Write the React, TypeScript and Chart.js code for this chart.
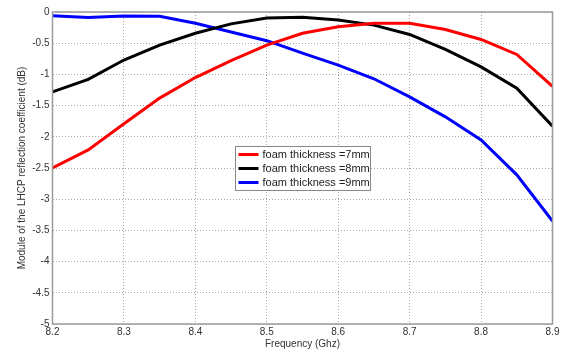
import React, { useEffect, useRef } from "react";
import { Chart, registerables } from "chart.js";

Chart.register(...registerables);

const freqs = [8.2, 8.25, 8.3, 8.35, 8.4, 8.45, 8.5, 8.55, 8.6, 8.65, 8.7, 8.75, 8.8, 8.85, 8.9];
const foam7 = [-2.5, -2.21, -1.79, -1.38, -1.05, -0.78, -0.53, -0.34, -0.235, -0.18, -0.18, -0.28, -0.44, -0.68, -1.19];
const foam8 = [-1.28, -1.08, -0.77, -0.53, -0.34, -0.19, -0.095, -0.085, -0.13, -0.21, -0.36, -0.6, -0.88, -1.22, -1.83];
const foam9 = [-0.06, -0.09, -0.065, -0.07, -0.18, -0.32, -0.46, -0.66, -0.85, -1.07, -1.36, -1.68, -2.05, -2.61, -3.35];
const seriesLabels = ["foam thickness =7mm", "foam thickness =8mm", "foam thickness =9mm"];
const seriesColors = ["#ff0000", "#000000", "#0000ff"];
const xTitle = "Frequency (Ghz)";
const yTitle = "Module of the LHCP reflection coefficient (dB)";

const FONT = "'Liberation Sans', Arial, sans-serif";

const boxAndLegend = {
  id: "boxAndLegend",
  afterDraw(chart: any) {
    const { ctx, chartArea } = chart;
    ctx.save();
    ctx.strokeStyle = "#9a9a9a";
    ctx.lineWidth = 1.5;
    ctx.strokeRect(chartArea.left, chartArea.top, chartArea.right - chartArea.left, chartArea.bottom - chartArea.top);
    // legend
    const lx = 235.5, ly = 146.5, lw = 135, lh = 44;
    ctx.fillStyle = "#ffffff";
    ctx.fillRect(lx, ly, lw, lh);
    ctx.strokeStyle = "#888888";
    ctx.lineWidth = 1;
    ctx.strokeRect(lx, ly, lw, lh);
    ctx.font = "11px " + FONT;
    ctx.textBaseline = "middle";
    ctx.textAlign = "left";
    chart.data.datasets.forEach((ds: any, i: number) => {
      const y = ly + 8 + i * 14;
      ctx.strokeStyle = ds.borderColor;
      ctx.lineWidth = 3;
      ctx.beginPath();
      ctx.moveTo(lx + 3, y);
      ctx.lineTo(lx + 23, y);
      ctx.stroke();
      ctx.fillStyle = "#222222";
      ctx.fillText(ds.label, lx + 27, y + 0.5);
    });
    ctx.restore();
  },
};

export default function App() {
  const ref = useRef<HTMLCanvasElement | null>(null);
  useEffect(() => {
    if (!ref.current) return;
    const datasets = [foam7, foam8, foam9].map((vals, i) => ({
      label: seriesLabels[i],
      data: freqs.map((f, j) => ({ x: f, y: vals[j] })),
      borderColor: seriesColors[i],
      backgroundColor: seriesColors[i],
      borderWidth: 3,
      pointRadius: 0,
      tension: 0,
      fill: false,
    }));
    const chart = new Chart(ref.current, {
      type: "line",
      data: { datasets },
      plugins: [boxAndLegend],
      options: {
        responsive: false,
        animation: false,
        layout: { padding: { left: 0, right: 18.5, top: 12, bottom: 0 } },
        plugins: { legend: { display: false }, tooltip: { enabled: false } },
        scales: {
          x: {
            type: "linear",
            min: 8.2,
            max: 8.9,
            afterFit: (s: any) => { s.height = 27; },
            ticks: {
              stepSize: 0.1,
              padding: 2,
              color: "#333333",
              font: { family: FONT, size: 10 },
              maxRotation: 0,
              callback: (v: any) => Number(v).toFixed(1),
            },
            grid: { color: "#a8a8a8", lineWidth: 1, drawTicks: false },
            border: { display: false, dash: [1, 2] },
            title: { display: true, text: xTitle, color: "#333333", font: { family: FONT, size: 10 }, padding: { top: 0, bottom: 1 } },
          },
          y: {
            min: -5,
            max: 0,
            afterFit: (s: any) => { s.width = 52.5; },
            ticks: {
              stepSize: 0.5,
              padding: 3,
              color: "#333333",
              font: { family: FONT, size: 10 },
              callback: (v: any) => String(Number(v)),
            },
            grid: { color: "#a8a8a8", lineWidth: 1, drawTicks: false },
            border: { display: false, dash: [1, 2] },
            title: { display: true, text: yTitle, color: "#333333", font: { family: FONT, size: 10 }, padding: { top: 16, bottom: 0 } },
          },
        },
      },
    });
    return () => chart.destroy();
  }, []);
  return (
    <div style={{ position: "absolute", left: 0, top: 0, width: 571, height: 351, background: "#fff" }}>
      <canvas ref={ref} width={571} height={351} style={{ display: "block" }} />
    </div>
  );
}
